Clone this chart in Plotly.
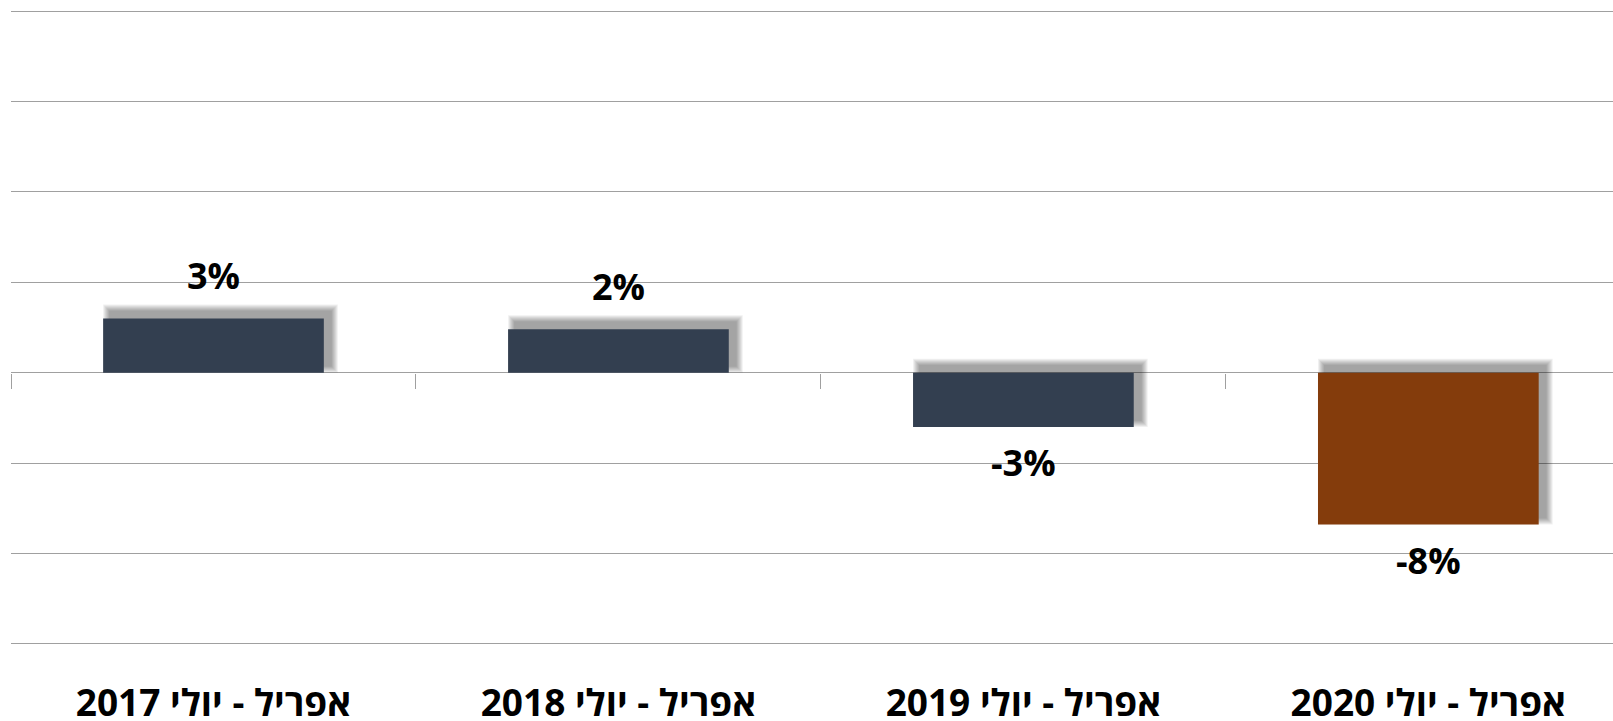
import plotly.graph_objects as go

categories = ["אפריל - יולי 2017", "אפריל - יולי 2018", "אפריל - יולי 2019", "אפריל - יולי 2020"]
values = [3.0, 2.4, -3.0, -8.4]
bar_colors = ["#333F50", "#333F50", "#333F50", "#843C0C"]
value_labels = ["3%", "2%", "-3%", "-8%"]

Y_MIN, Y_MAX, Y_STEP = -15, 20, 5
Y_PAD = 0.06
BAR_W = 0.545
X_RANGE = [-0.5, 3.456]
PX_PER_CAT = 405.0
PX_PER_UNIT = 18.1
GRID = "#A0A0A0"
FONT = "Open Sans"

fig = go.Figure()

# soft shadow (shifted right / up, blurred with layered rectangles)
dx, dy = 7, 7
for e in range(1, 8):
    bases = [min(0, v) + (dy - e) / PX_PER_UNIT for v in values]
    heights = [abs(v) + 2 * e / PX_PER_UNIT for v in values]
    fig.add_trace(go.Bar(
        x=categories, y=heights, base=bases,
        width=BAR_W + 2 * e / PX_PER_CAT,
        offset=-(BAR_W / 2) - e / PX_PER_CAT + dx / PX_PER_CAT,
        marker=dict(color="rgba(0,0,0,0.06)", line=dict(width=0)),
        hoverinfo="skip", showlegend=False,
    ))

fig.add_trace(go.Bar(
    x=categories, y=values, width=BAR_W,
    marker=dict(color=bar_colors, line=dict(width=0)),
    showlegend=False,
))

# invisible trace to carry the tick-mark axis on the zero line
fig.add_trace(go.Scatter(x=[None], y=[None], xaxis="x2", yaxis="y", showlegend=False))

annotations = []
for c, v, t in zip(categories, values, value_labels):
    annotations.append(dict(
        x=c, y=v, xref="x", yref="y", text=t, showarrow=False,
        yanchor="bottom" if v >= 0 else "top",
        yshift=16 if v >= 0 else -9,
        font=dict(family=FONT, size=36, color="#000000", weight="bold"),
    ))

boundaries = [i - 0.5 for i in range(len(categories) + 1)]
y_lo, y_hi = Y_MIN - Y_PAD, Y_MAX + Y_PAD

fig.update_layout(
    width=1613, height=721,
    margin=dict(l=11, r=0, t=10, b=76),
    paper_bgcolor="white", plot_bgcolor="white",
    barmode="overlay",
    showlegend=False,
    annotations=annotations,
    xaxis=dict(
        type="category", range=X_RANGE, showgrid=False, zeroline=False,
        showline=False, ticks="", automargin=False,
        tickvals=categories,
        ticktext=["\u202b" + c + "\u202c" for c in categories],
        tickfont=dict(family=FONT, size=37, color="#000000", weight="bold"),
        ticklabelstandoff=33,
    ),
    xaxis2=dict(
        overlaying="x", anchor="free", position=(0 - y_lo) / (y_hi - y_lo),
        range=X_RANGE, tickvals=boundaries, ticks="outside", ticklen=15,
        tickwidth=1.3, tickcolor=GRID, showticklabels=False, showgrid=False,
        zeroline=False, showline=False, automargin=False,
    ),
    yaxis=dict(
        range=[y_lo, y_hi], dtick=Y_STEP, tick0=0, showgrid=True,
        gridcolor=GRID, gridwidth=1.3, zeroline=True, zerolinecolor=GRID,
        zerolinewidth=1.3, showticklabels=False, ticks="", showline=False,
        automargin=False,
    ),
)

fig.write_html(
    "out.html",
    config={"displayModeBar": False},
    post_script="document.body.style.margin='0';document.body.style.overflow='hidden';",
)
